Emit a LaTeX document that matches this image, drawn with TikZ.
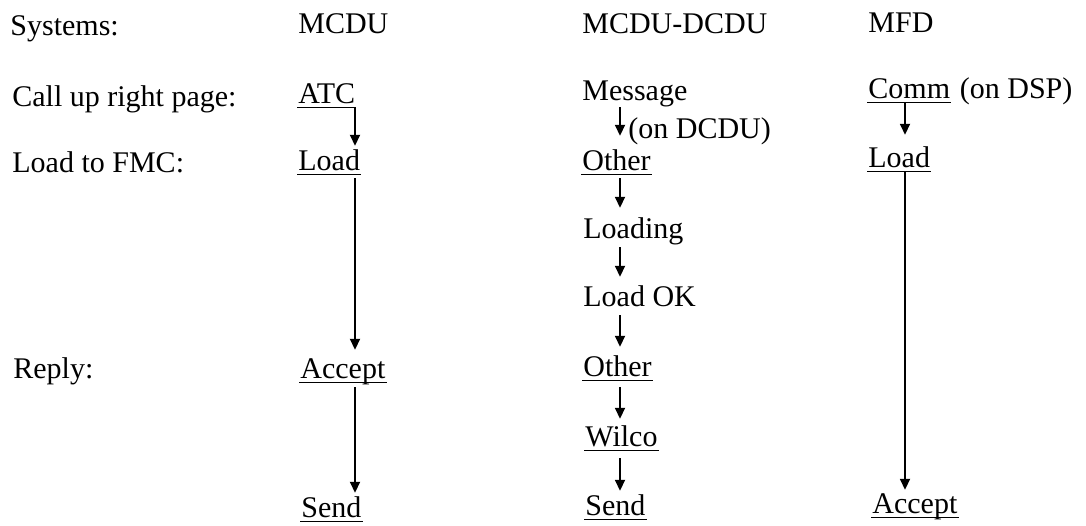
\documentclass[tikz,border=0pt]{standalone}
\usepackage{fontspec}
\setmainfont{Liberation Serif}
\usetikzlibrary{arrows.meta,positioning,calc}

\begin{document}
\begin{tikzpicture}[x=0.5pt,y=-0.5pt,
			txt/.style={anchor=base west,inner sep=0pt,font=\fontsize{15}{18}\selectfont},
			arr/.style={-{Triangle[length=5.5pt,width=5pt]},line width=0.9pt,shorten >=1.5pt},
			uline/.style={line width=0.9pt}
			]
			\useasboundingbox (0,0) rectangle (1086,525);
			% row labels
			\node[txt] (sys) at (10,35) {Systems:};
			\node[txt] (call) at (12,106) {Call up right page:};
			\node[txt] (fmc) at (12,172) {Load to FMC:};
			\node[txt] (reply) at (13,378) {Reply:};
			% MCDU
			\coordinate (colA) at (355,0);
			\node[txt] (mcdu) at (298,33) {MCDU};
			\node[txt] (atc) at (298,103) {ATC};
			\node[txt] (loada) at (298,170) {Load};
			\node[txt] (accepta) at (300,378) {Accept};
			\node[txt] (senda) at (301,517) {Send};
			% MCDU-DCDU
			\coordinate (colB) at (620,0);
			\node[txt] (mcdudcdu) at (582,33) {MCDU-DCDU};
			\node[txt] (msg) at (582,100) {Message};
			\node[txt] (ondcdu) at (628,138) {(on DCDU)};
			\node[txt] (other) at (582,170) {Other};
			\node[txt] (loading) at (583,238) {Loading};
			\node[txt] (loadok) at (583,306) {Load OK};
			\node[txt] (otherb) at (583,376) {Other};
			\node[txt] (wilco) at (585,446) {Wilco};
			\node[txt] (sendb) at (585,515) {Send};
			% MFD
			\coordinate (colC) at (905,0);
			\node[txt] (mfd) at (868,32) {MFD};
			\node[txt] (comm) at (868,98) {Comm};
			\node[txt] (ondsp) at ([xshift=4.5pt]comm.base east) {(on DSP)};
			\node[txt] (loadc) at (868,167) {Load};
			\node[txt] (acceptc) at (872,513) {Accept};
			% underlines
			\foreach \n in {atc,loada,accepta,senda,other,otherb,wilco,sendb,comm,loadc,acceptc}
				\draw[uline] ($(\n.base west)+(-1,4.5)$) -- ($(\n.base east)+(1,4.5)$);
			% arrows
			\draw[arr] ($(atc.base -| colA)+(0,4.5)$) -- (loada.north -| colA);
			\draw[arr] ($(loada.base -| colA)+(0,8)$) -- ($(accepta.north -| colA)+(0,-5)$);
			\draw[arr] ($(accepta.base -| colA)+(0,9)$) -- (senda.north -| colA);
			\draw[arr] ($(msg.base -| colB)+(0,7)$) -- ($(other.north -| colB)+(0,-10)$);
			\draw[arr] ($(other.base -| colB)+(0,8)$) -- ($(loading.north -| colB)+(0,-6)$);
			\draw[arr] ($(loading.base -| colB)+(0,9)$) -- ($(loadok.north -| colB)+(0,-5)$);
			\draw[arr] ($(loadok.base -| colB)+(0,9)$) -- ($(otherb.north -| colB)+(0,-5)$);
			\draw[arr] ($(otherb.base -| colB)+(0,11)$) -- ($(wilco.north -| colB)+(0,-3)$);
			\draw[arr] ($(wilco.base -| colB)+(0,12)$) -- (sendb.north -| colB);
			\draw[arr] ($(comm.base -| colC)+(0,5)$) -- ($(loadc.north -| colC)+(0,-8)$);
			\draw[arr] ($(loadc.base -| colC)+(0,5)$) -- (acceptc.north -| colC);
		\end{tikzpicture}
\end{document}
